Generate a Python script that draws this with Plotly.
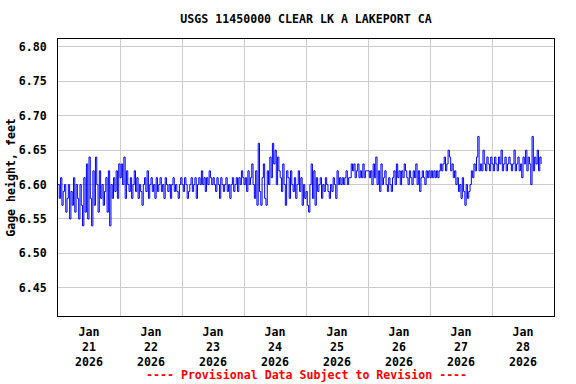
import pandas as pd
import plotly.graph_objects as go

# Gage height readings in hundredths of a foot above 6.00 ft, 30-minute steps, per day
jan21 = [60,58,61,57,59,60,56,58,60,55,59,57,61,56,60,58,55,60,57,54,61,56,63,55,
         64,58,54,62,57,64,60,56,62,58,60,57,59,61,56,62,54,60,58,61,59,62,58,63]
jan22 = [61,63,60,64,58,62,60,59,61,58,60,62,59,61,58,60,59,57,60,61,59,62,58,60,
         61,59,60,58,61,59,60,61,59,60,58,61,60,59,60,58,60,61,59,60,59,58,60,61]
jan23 = [60,59,61,60,58,59,60,61,59,60,61,58,60,61,60,62,60,61,59,61,60,62,61,60,
         61,60,59,61,60,58,61,60,59,60,61,59,60,58,60,61,59,60,61,59,61,60,62,61]
jan24 = [60,61,59,62,60,61,63,60,58,62,57,66,59,57,61,63,58,57,62,60,64,61,66,63,
         65,60,64,62,61,59,63,60,57,62,61,58,62,60,59,61,58,60,62,59,61,57,60,58]
jan25 = [59,57,56,60,63,58,62,57,61,59,60,61,58,60,59,61,60,59,58,60,59,61,60,58,
         62,60,61,60,61,60,61,62,60,61,61,63,62,63,61,62,63,61,62,61,63,61,62,62]
jan26 = [62,61,62,60,63,61,64,60,62,59,63,60,61,62,60,59,61,60,59,61,62,60,63,61,
         62,60,62,61,63,62,61,60,62,61,60,62,61,63,60,62,59,61,62,61,60,62,61,62]
jan27 = [61,62,61,62,61,62,61,62,63,62,63,64,62,63,65,64,62,63,61,62,60,61,59,60,
         58,61,59,57,60,58,59,60,62,61,63,62,64,67,62,63,62,65,63,62,64,63,62,64]
jan28 = [63,62,64,63,62,64,63,65,62,63,64,62,63,64,63,62,63,65,62,63,64,62,63,61,
         64,63,65,62,64,63,60,67,62,64,63,65,62,64,63]

start = "2026-01-21 00:00"
tick_days = ["2026-01-21", "2026-01-22", "2026-01-23", "2026-01-24",
             "2026-01-25", "2026-01-26", "2026-01-27", "2026-01-28"]
tick_text = ["Jan<br>21<br>2026", "Jan<br>22<br>2026", "Jan<br>23<br>2026", "Jan<br>24<br>2026",
             "Jan<br>25<br>2026", "Jan<br>26<br>2026", "Jan<br>27<br>2026", "Jan<br>28<br>2026"]
y_ticks = [6.45, 6.50, 6.55, 6.60, 6.65, 6.70, 6.75, 6.80]

hundredths = jan21 + jan22 + jan23 + jan24 + jan25 + jan26 + jan27 + jan28
values = [6.0 + v / 100.0 for v in hundredths]
times = pd.date_range(start, periods=len(values), freq="30min")

FONT = "DejaVu Sans Mono"
FS = 11.6

fig = go.Figure()
fig.add_trace(go.Scatter(x=times, y=values, mode="lines", line_shape="hv",
                         line=dict(color="#0000ff", width=1), showlegend=False))

tick_noon = [pd.Timestamp(d) + pd.Timedelta(hours=12) for d in tick_days]

fig.update_layout(
    width=576, height=384,
    margin=dict(l=58, r=22, t=39, b=68),
    paper_bgcolor="white", plot_bgcolor="white",
    font=dict(family=FONT, size=FS, color="black", weight="bold"),
    title=dict(text="USGS 11450000 CLEAR LK A LAKEPORT CA", x=0.5, xref="paper",
               y=1 - 19 / 384, yanchor="middle",
               font=dict(family=FONT, size=FS, color="black", weight="bold")),
    xaxis=dict(range=["2026-01-21 00:00", "2026-01-29 00:00"], automargin=False,
               tickvals=tick_noon, ticktext=tick_text, showgrid=False, ticks="",
               showline=True, linecolor="black", linewidth=1, mirror=True,
               zeroline=False, tickfont=dict(family=FONT, size=FS, weight="bold"),
               ticklabelstandoff=5,
               minor=dict(tick0="2026-01-21", dtick=86400000, showgrid=True,
                          gridcolor="#cccccc", gridwidth=1)),
    yaxis=dict(range=[6.409, 6.8116], tickvals=y_ticks, tickformat=".2f", automargin=False,
               showgrid=True, gridcolor="#cccccc", gridwidth=1, ticks="",
               showline=True, linecolor="black", linewidth=1, mirror=True,
               zeroline=False, ticklabelstandoff=8,
               tickfont=dict(family=FONT, size=FS, weight="bold"),
               title=dict(text="Gage height, feet", standoff=0,
                          font=dict(family=FONT, size=FS, weight="bold"))),
    annotations=[dict(text="---- Provisional Data Subject to Revision ----",
                      xref="paper", yref="paper", x=0.5, y=-(375 - 316) / 277,
                      yanchor="middle", showarrow=False,
                      font=dict(family=FONT, size=FS, color="red", weight="bold"))],
)

fig.write_html("out.html", config={"displayModeBar": False},
               post_script="document.body.style.margin='0';")
